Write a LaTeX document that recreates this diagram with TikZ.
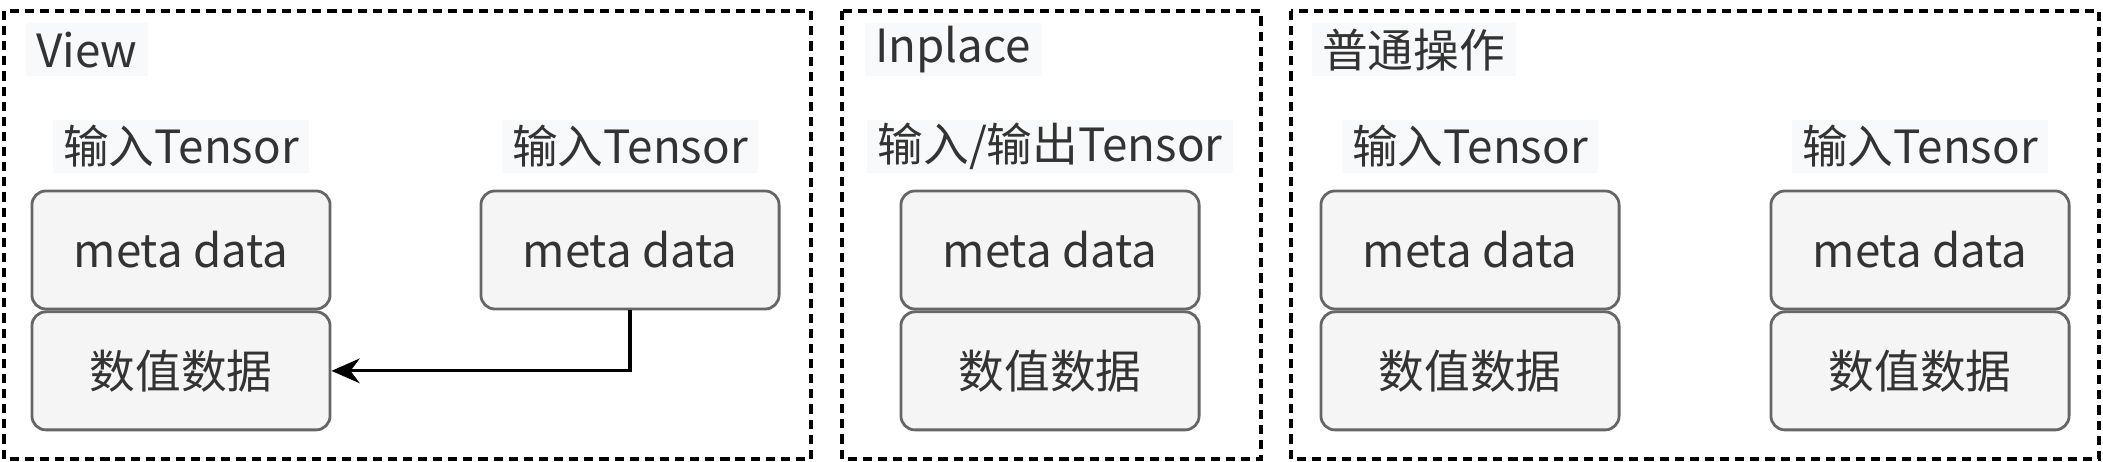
\documentclass[tikz,border=0pt]{standalone}
\usepackage{fontspec}
\setmainfont{Noto Sans CJK SC}
\usepackage{tikz}
\usetikzlibrary{arrows.meta,positioning}

\definecolor{boxfill}{HTML}{F5F5F5}
\definecolor{boxline}{HTML}{666666}
\definecolor{lblfill}{HTML}{F8F9FA}
\definecolor{txt}{HTML}{333333}

\begin{document}
\begin{tikzpicture}[x=0.01cm,y=-0.01cm,
                    node distance=0.16cm,
                    every node/.style={font=\fontsize{13pt}{15pt}\selectfont,text=txt},
                    frame/.style={draw=black,line width=0.9pt,dash pattern=on 2.6pt off 1.7pt},
                    cell/.style={draw=boxline,fill=boxfill,line width=0.8pt,rounded corners=0.14cm,
                                 minimum width=2.98cm,minimum height=1.18cm,inner sep=0pt},
                    lbl/.style={fill=lblfill,minimum height=0.53cm,inner xsep=3pt,inner ysep=0pt},
                    >={Stealth[length=8pt,width=7pt]}]
    \useasboundingbox (0,0) rectangle (2103,462);

    % frames
    \draw[frame] (4,11) rectangle (811,459);
    \draw[frame] (842,11) rectangle (1261,459);
    \draw[frame] (1291,11) rectangle (2099,459);

    % titles
    \node[lbl,anchor=west] (TV) at (25,50)   {View};
    \node[lbl,anchor=west] (TI) at (864,50)  {Inplace};
    \node[lbl,anchor=west] (TN) at (1311,50) {普通操作};

    % View
    \node[cell] (M1) at (181,250) {meta data};
    \node[cell] (D1) [below=0pt of M1] {数值数据};
    \node[lbl]  (L1) [above=of M1] {输入Tensor};
    \node[cell] (M2) at (630,250) {meta data};
    \node[lbl]  (L2) [above=of M2] {输入Tensor};

    % Inplace
    \node[cell] (M3) at (1050,250) {meta data};
    \node[cell] (D3) [below=0pt of M3] {数值数据};
    \node[lbl]  (L3) [above=of M3] {输入/输出Tensor};

    % normal ops
    \node[cell] (M4) at (1470,250) {meta data};
    \node[cell] (D4) [below=0pt of M4] {数值数据};
    \node[lbl]  (L4) [above=of M4] {输入Tensor};
    \node[cell] (M5) at (1920,250) {meta data};
    \node[cell] (D5) [below=0pt of M5] {数值数据};
    \node[lbl]  (L5) [above=of M5] {输入Tensor};

    \draw[->,line width=0.9pt] (M2.south) |- (D1.east);
\end{tikzpicture}
\end{document}
